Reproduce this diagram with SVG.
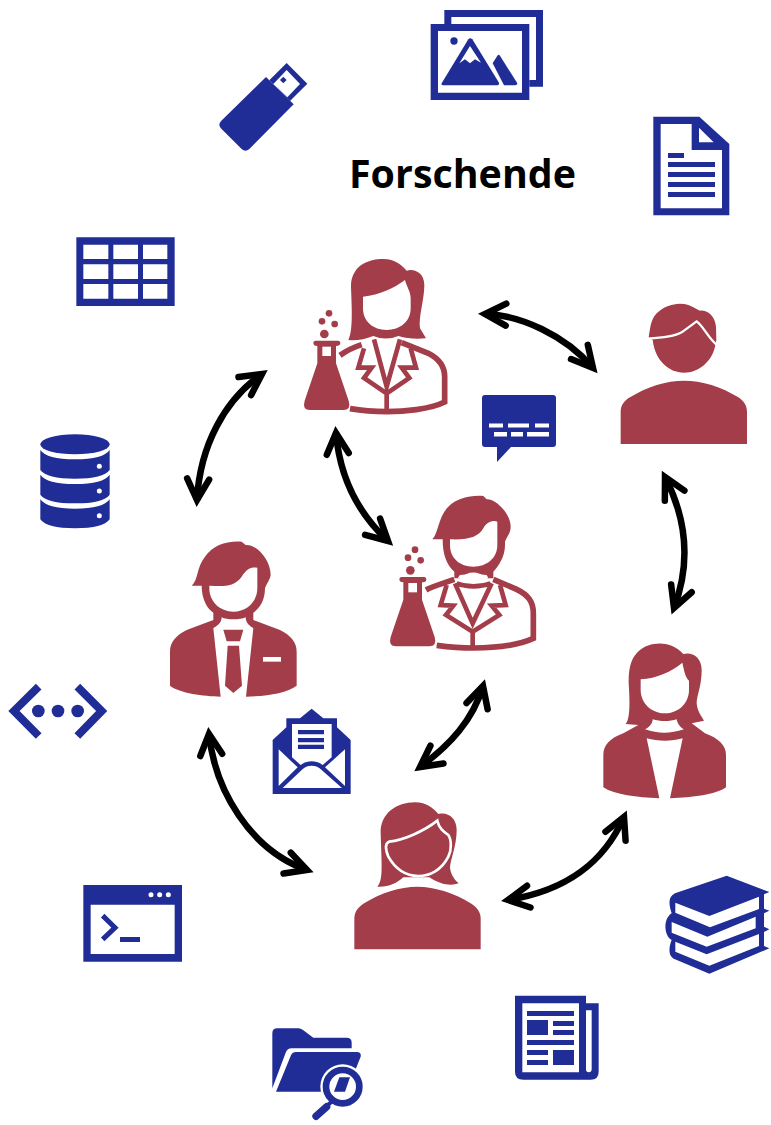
<svg xmlns="http://www.w3.org/2000/svg" xmlns:xlink="http://www.w3.org/1999/xlink" width="771" height="1125" viewBox="0 0 771 1125">
<style>
.r{fill:#a33d49}.b{fill:#202d96}.w{fill:#fff}
.rs{fill:none;stroke:#a33d49;stroke-linejoin:miter}
.ws{fill:none;stroke:#fff}
.bs{fill:none;stroke:#202d96}
.arrow{fill:none;stroke:#000;stroke-width:6.5;stroke-linecap:butt;marker-start:url(#ah);marker-end:url(#ah)}
.title{font-family:"Open Sans","Liberation Sans",sans-serif;font-weight:700;font-size:40px;fill:#000}
</style>
<defs>
<marker id="ah" markerUnits="userSpaceOnUse" markerWidth="44" markerHeight="44" refX="32" refY="22" viewBox="0 0 44 44" orient="auto-start-reverse">
<path d="M11 11 L32 22 L11 33" fill="none" stroke="#000" stroke-width="6.5" stroke-linecap="round" stroke-linejoin="miter" stroke-miterlimit="6"/>
</marker>
<g id="flask">
<path class="r" d="M70 279 Q70 272 77 272 L144 272 Q151 272 151 280 Q150 288 138 288 L138 340 L176 452 Q184 480 160 480 L60 480 Q36 480 44 452 L82 340 L82 288 Q70 288 70 279Z"/>
<path class="w" d="M97 290 L123 290 L123 318 L97 318Z"/>
<circle class="r" cx="103" cy="252" r="13"/><circle class="r" cx="117" cy="190" r="10"/><circle class="r" cx="96" cy="214" r="10"/><circle class="r" cx="134" cy="222" r="10"/>
</g>
</defs>

<g id="connectors">
<path class="arrow" d="M485 314 C520 315 565 335 593 368"/>
<path class="arrow" d="M262 374 C225 400 200 445 197 500"/>
<path class="arrow" d="M336 433 C340 480 360 515 388 541"/>
<path class="arrow" d="M665 477 C682 510 694 555 674 608"/>
<path class="arrow" d="M624 817 C605 860 570 890 508 900"/>
<path class="arrow" d="M483 686 C473 720 450 745 420 767"/>
<path class="arrow" d="M209 734 C215 790 250 850 307 870"/>
</g>

<text id="title" class="title" x="349" y="188" textLength="227" lengthAdjust="spacingAndGlyphs">Forschende</text>

<g id="person-scientist-woman" transform="translate(290 250) scale(.33333)">
<use xlink:href="#flask" href="#flask"/>
<path class="r" d="M175 270 C190 240 185 170 183 110 C183 50 230 27 280 27 C315 27 335 45 350 62 C375 55 403 70 403 105 C403 150 385 200 390 235 L408 265 C380 268 350 266 325 258 C300 268 275 268 250 258 C225 268 200 272 175 270Z"/>
<path class="w" d="M219 140 C270 135 310 115 345 90 C350 110 362 125 362 145 L362 175 C362 215 330 240 290 240 C250 240 219 215 219 175Z"/>
<path class="rs" stroke-width="17" d="M150 316 C170 302 190 292 215 284 M335 278 L415 310 C450 328 464 350 464 380 L464 456 C420 478 340 485 290 485 C250 485 215 482 180 476"/>
<path class="rs" stroke-width="14" d="M252 268 L290 410 L330 268 M222 295 L205 353 L245 353 L222 384 L290 430 L358 384 L335 353 L378 353 L362 295 M290 430 L290 478"/>
</g>

<g id="person-scientist-man" transform="translate(290 250) scale(.33333)">
<use xlink:href="#flask" href="#flask" x="258" y="709"/>
<path class="r" d="M427 868 C445 850 445 800 475 770 C500 745 540 735 580 738 L590 748 C615 745 662 790 662 830 C662 850 650 860 645 875 L645 885 C645 920 625 950 610 965 L610 985 L590 985 C565 962 535 962 510 985 L493 985 L493 965 C470 945 458 915 458 868Z"/>
<path class="w" d="M480 868 C540 870 565 860 580 835 C590 815 610 810 622 815 L622 885 C622 925 590 950 550 950 C510 950 480 925 480 885Z"/>
<path class="w" d="M510 975 C530 972 570 972 590 975 L595 985 L503 985Z"/>
<path class="rs" stroke-width="17" d="M408 1020 C430 1008 455 1002 493 988 M610 988 L680 1018 C715 1035 730 1055 730 1090 L730 1165 C680 1188 600 1194 550 1194 C510 1194 470 1190 440 1186"/>
<path class="rs" stroke-width="14" d="M500 1000 C530 1012 570 1012 602 1000 M495 1000 L548 1120 L605 1000 M470 1005 L452 1065 L490 1067 L468 1095 L548 1145 L628 1095 L605 1067 L647 1065 L630 1005 M548 1145 L548 1188"/>
</g>

<g id="person-man-suit" transform="translate(0 420) scale(.33333)">
<path class="r" d="M575 497 C595 480 590 440 615 410 C640 375 680 362 725 365 L737 375 C770 372 812 420 812 465 C810 480 800 490 795 505 C795 540 780 565 760 578 L760 600 L840 630 C870 645 890 665 890 695 L890 797 C860 820 800 828 738 830 L760 625 C750 618 737 610 737 592 C720 600 680 600 665 592 C665 610 650 618 640 625 L662 830 C610 828 540 820 510 797 L510 695 C510 665 530 645 560 630 L640 600 L640 578 C620 565 605 535 605 497Z"/>
<path class="w" d="M628 497 C660 497 700 505 725 470 C740 445 755 440 772 443 L772 505 C772 545 740 575 700 575 C660 575 628 545 628 505Z"/>
<path class="w" d="M789 711 H843 V725 H789Z"/>
<path class="r" d="M670 629 H730 L720 664 H680Z M683 677 H717 L726 797 L700 819 L675 797Z"/>
</g>

<g id="person-man-plain" transform="translate(590 290) scale(.33333)">
<path class="r" d="M176 142 C180 125 180 90 200 70 C225 45 265 35 295 45 C310 50 320 58 330 62 C355 60 375 80 378 110 L379 150 L375 170 C365 215 325 248 282 248 C235 248 195 210 188 150Z"/>
<path class="ws" stroke-width="7" d="M174 146 C215 144 250 141 275 127 L320 94 C340 108 355 145 382 166"/>
<path class="r" d="M92 462 L92 365 C92 345 105 330 120 322 C170 290 230 272 282 272 C335 272 395 290 445 322 C460 332 471 345 471 365 L471 462Z"/>
</g>

<g id="person-woman-suit" transform="translate(590 290) scale(.33333)">
<path class="r" d="M107 1302 C120 1285 120 1240 116 1180 C115 1130 125 1100 150 1080 C175 1060 235 1045 280 1092 C305 1085 335 1100 335 1140 C335 1190 320 1215 320 1240 C322 1265 335 1280 342 1292 L305 1300 L345 1330 C385 1345 408 1365 408 1395 L408 1492 C375 1515 310 1522 240 1525 L278 1345 C245 1355 205 1355 170 1345 L208 1525 C140 1522 75 1515 40 1492 L40 1395 C40 1365 60 1345 100 1330 L145 1305Z"/>
<path class="w" d="M152 1168 C200 1165 245 1145 277 1118 C282 1140 285 1160 297 1172 L297 1200 C297 1240 265 1270 225 1270 C185 1270 152 1240 152 1200Z"/>
<path class="w" d="M188 1288 C210 1295 240 1295 260 1288 C262 1300 270 1312 282 1318 C240 1332 205 1332 165 1318 C178 1312 188 1300 188 1288Z"/>
</g>

<g id="person-woman-plain" transform="translate(340 790) scale(.33333)">
<path class="r" d="M112 290 C130 270 125 230 122 130 C120 70 170 37 225 37 C260 37 280 55 295 72 C325 65 350 85 350 120 C350 170 330 210 330 235 C335 260 345 270 356 280 C335 288 300 285 268 262 L190 262 C170 280 145 292 112 290Z"/>
<path class="r" stroke="#fff" stroke-width="8" d="M147 155 C190 150 250 125 292 92 C297 115 310 125 325 135 C335 150 335 180 325 200 C305 240 270 258 235 258 C195 258 165 235 145 200 C135 175 135 160 147 155Z"/>
<path class="r" d="M43 478 L43 385 C43 365 55 350 75 338 C120 310 180 290 232 290 C285 290 345 310 392 340 C410 352 422 365 422 385 L422 478Z"/>
</g>

<g id="icon-images" transform="translate(420 0) scale(.33333)">
<path class="b" d="M73 30 H369 V260 H328 V240 H348 V51 H94 V72 H73Z"/>
<path class="b" fill-rule="evenodd" d="M32 72 H328 V300 H32Z M54 93 V278 H306 V93Z"/>
<circle class="b" cx="102" cy="123" r="11"/>
<path class="b" d="M65 250 L145 118 Q150 112 157 118 L237 248 Q238 256 230 256 L72 256 Q62 256 65 250Z"/>
<path class="w" d="M118 190 L150 138 L183 188 L165 178 L150 190 L135 178Z"/>
<path class="b" d="M218 190 L232 167 Q236 162 240 167 L292 250 Q292 256 285 256 L252 256Z"/>
</g>

<g id="icon-document" transform="translate(420 0) scale(.33333)">
<path class="b" d="M700 350 H838 L928 432 V646 H700Z"/>
<path class="w" d="M722 372 H815 V450 H906 V625 H722Z M837 383 L881 427 H837Z"/>
<path class="b" d="M744 459 H792 V474 H744Z M744 486 H885 V501 H744Z M744 516 H885 V531 H744Z M744 546 H885 V561 H744Z M744 576 H885 V591 H744Z"/>
</g>

<g id="icon-usb" transform="scale(.33333)">
<path class="b" d="M798 231 L881 313 L748 447 Q736 458 725 447 L664 386 Q652 375 664 362Z"/>
<path class="b" d="M860 189 L922 251 L870 303 L808 241Z"/>
<path class="w" d="M860 210 L900 252 L862 292 L820 252Z"/>
<path class="b" d="M850 230 L860 240 L850 250 L840 240Z"/>
</g>

<g id="icon-table" transform="scale(.33333)">
<path class="b" d="M229 712 H524 V918 H229Z"/>
<path class="w" d="M250 734 H325 V777 H250Z M340 734 H414 V777 H340Z M429 734 H502 V777 H429Z M250 793 H325 V837 H250Z M340 793 H414 V837 H340Z M429 793 H502 V837 H429Z M250 852 H325 V896 H250Z M340 852 H414 V896 H340Z M429 852 H502 V896 H429Z"/>
</g>

<g id="icon-database" transform="translate(0 420) scale(.33333)">
<ellipse class="b" cx="225" cy="73" rx="104" ry="30"/>
<path class="b" d="M121 90 Q140 118 225 118 Q310 118 329 90 V150 Q310 176 225 176 Q140 176 121 150Z"/>
<path class="b" d="M121 164 Q140 192 225 192 Q310 192 329 164 V224 Q310 250 225 250 Q140 250 121 224Z"/>
<path class="b" d="M121 238 Q140 266 225 266 Q310 266 329 238 V298 Q310 325 225 325 Q140 325 121 298Z"/>
<circle class="w" cx="298" cy="139" r="7.5"/><circle class="w" cx="298" cy="213" r="7.5"/><circle class="w" cx="298" cy="287" r="7.5"/>
</g>

<g id="icon-network" transform="translate(0 420) scale(.33333)">
<path class="bs" stroke-width="24" d="M116 800 L42 873 L116 948 M232 800 L305 873 L232 948"/>
<circle class="b" cx="115" cy="873" r="19"/><circle class="b" cx="174" cy="873" r="19"/><circle class="b" cx="233" cy="873" r="19"/>
</g>

<g id="icon-mail" transform="translate(0 420) scale(.33333)">
<path class="b" d="M818 960 L859 922 V895 H900 L935 866 L970 895 H1011 V922 L1052 960 V1122 H818Z"/>
<path class="w" d="M876 912 H995 V1012 L968 1035 C950 1020 920 1020 902 1035 L876 1012Z"/>
<path class="b" d="M894 930 H972 V943 H894Z M894 954 H972 V967 H894Z M894 974 H972 V987 H894Z"/>
<path class="w" d="M836 988 L893 1042 L836 1098Z M1035 988 L975 1042 L1035 1098Z M848 1104 L905 1050 C920 1033 950 1033 965 1050 L1026 1104Z"/>
</g>

<g id="icon-chat">
<path class="b" d="M485 395 H553 Q556 395 556 398 V444 Q556 447 553 447 H511 L497 462 V447 H485 Q482 447 482 444 V398 Q482 395 485 395Z"/>
<path class="w" d="M489 423.5 H503 V427.5 H489Z M508 423.5 H529 V427.5 H508Z M535 423.5 H549 V427.5 H535Z M494 432 H507 V436.5 H494Z M511 432 H523 V436.5 H511Z M527 432 H549 V436.5 H527Z"/>
</g>

<g id="icon-terminal" transform="translate(60 870) scale(.33333)">
<path class="b" d="M70 45 H366 V275 H70Z"/>
<path class="w" d="M92 104 H344 V252 H92Z"/>
<circle class="w" cx="273" cy="74" r="7.5"/><circle class="w" cx="299" cy="74" r="7.5"/><circle class="w" cx="325" cy="74" r="7.5"/>
<path class="bs" stroke-width="15" d="M128 137 L165 173 L128 208"/>
<path class="b" d="M180 201 H240 V216 H180Z"/>
</g>

<g id="icon-folder" transform="translate(60 870) scale(.33333)">
<path class="b" d="M637 655 V490 Q637 475 652 475 H715 Q722 475 730 481 L760 503 H860 Q875 503 875 518 V535 H695 Q682 535 677 548Z"/>
<path class="b" d="M648 665 L692 558 Q696 546 708 546 H890 Q905 546 902 560 L860 665Z"/>
<circle class="w" cx="848" cy="650" r="67"/>
<circle class="bs" cx="848" cy="650" r="50" stroke-width="20"/>
<path class="b" d="M838 622 H870 L855 665 H822Z"/>
<path class="bs" stroke-width="22" stroke-linecap="round" d="M768 739 L800 710"/>
<path class="bs" stroke-width="12" d="M795 712 L815 695"/>
</g>

<g id="icon-newspaper" transform="translate(500 860) scale(.33333)">
<path class="b" d="M45 407 H258 V430 H296 V635 Q296 659 272 659 H70 Q45 659 45 635Z"/>
<path class="w" d="M67 430 H237 V637 H67Z M258 451 H275 V628 Q275 637 266 637 Q258 637 258 628Z"/>
<path class="b" d="M81 453 H222 V468 H81Z M81 480 H144 V525 H81Z M159 483 H222 V498 H159Z M159 510 H222 V525 H159Z M81 540 H222 V555 H81Z M81 570 H144 V585 H81Z M159 570 H222 V615 H159Z M81 600 H144 V615 H81Z"/>
</g>

<g id="icon-books" transform="translate(500 860) scale(.33333)">
<path class="b" d="M525 100 L680 47 L808 96 L792 103 V146 L808 152 L792 160 V200 L808 208 L792 216 V258 L808 265 L628 341 L525 298 C505 290 505 265 515 240 C490 225 490 175 515 160 C505 130 505 110 525 100Z"/>
<path class="w" d="M526 128 L628 168 L777 110 V147 L630 202 L526 158Z M515 186 L622 230 L767 170 V205 L620 260 L515 218Z M526 245 L620 283 L777 222 V258 L628 317 L526 275Z"/>
</g>
</svg>
